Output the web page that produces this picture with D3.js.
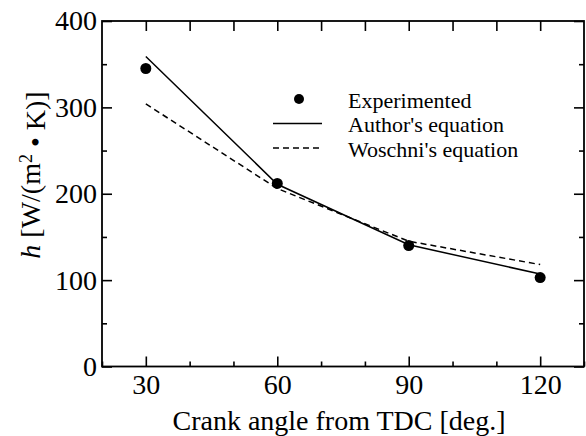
<!DOCTYPE html>
<html>
<head>
<meta charset="utf-8">
<script src="https://cdn.jsdelivr.net/npm/d3@7"></script>
<style>
  body { margin: 0; background: #fff; }
  svg { display: block; }
</style>
</head>
<body>
<svg width="586" height="436" font-family="Liberation Serif"></svg>
<script>
// crank angles (deg.)
const angles = [30, 60, 90, 120];
// heat transfer coefficient h [W/(m2 K)]
const experimented = [345, 212, 140, 103];
const authors = [359, 211, 141, 107];
const woschni = [304, 206, 145, 118];

const xTicks = [30, 60, 90, 120];
const yTicks = [0, 100, 200, 300, 400];

const legendNames = ["Experimented", "Author's equation", "Woschni's equation"];

var svg = d3.select("svg"),
  plotLeft = 102, plotRight = 584, plotTop = 21, plotBottom = 366.5;

var x = d3.scaleLinear().domain([20, 130]).range([plotLeft, plotRight]);
var y = d3.scaleLinear().domain([0, 400]).range([plotBottom, plotTop]);

// minor tick positions
var xMinor = d3.range(20, 131, 10).filter(d => xTicks.indexOf(d) < 0);
var yMinor = d3.range(50, 400, 100);

function styleAxis(g) {
  g.select(".domain").remove();
  g.attr("font-size", 28).attr("font-family", "Liberation Serif");
  g.selectAll(".tick line").attr("stroke", "#000").attr("stroke-width", 1.6);
  g.selectAll(".tick text").attr("fill", "#000");
}

// bottom axis, ticks inward
svg.append("g")
  .attr("transform", "translate(0," + plotBottom + ")")
  .call(d3.axisBottom(x).tickValues(xTicks).tickSize(-10).tickPadding(8).tickFormat(d3.format("d")))
  .call(styleAxis);
svg.append("g")
  .attr("transform", "translate(0," + plotBottom + ")")
  .call(d3.axisBottom(x).tickValues(xMinor).tickSize(-5).tickFormat(""))
  .call(styleAxis);

// top axis
svg.append("g")
  .attr("transform", "translate(0," + plotTop + ")")
  .call(d3.axisTop(x).tickValues(d3.range(30, 121, 10)).tickSize(-10).tickFormat(""))
  .call(styleAxis);

// left axis
svg.append("g")
  .attr("transform", "translate(" + plotLeft + ",0)")
  .call(d3.axisLeft(y).tickValues(yTicks).tickSize(-10).tickPadding(5).tickFormat(d3.format("d")))
  .call(styleAxis);
svg.append("g")
  .attr("transform", "translate(" + plotLeft + ",0)")
  .call(d3.axisLeft(y).tickValues(yMinor).tickSize(-5).tickFormat(""))
  .call(styleAxis);

// right axis
svg.append("g")
  .attr("transform", "translate(" + plotRight + ",0)")
  .call(d3.axisRight(y).tickValues(yTicks).tickSize(-10).tickFormat(""))
  .call(styleAxis);
svg.append("g")
  .attr("transform", "translate(" + plotRight + ",0)")
  .call(d3.axisRight(y).tickValues(yMinor).tickSize(-5).tickFormat(""))
  .call(styleAxis);

// frame
svg.append("rect")
  .attr("x", plotLeft)
  .attr("y", plotTop)
  .attr("width", plotRight - plotLeft)
  .attr("height", plotBottom - plotTop)
  .attr("fill", "none")
  .attr("stroke", "#000")
  .attr("stroke-width", 1.8);

var line = d3.line()
  .x(d => x(d[0]))
  .y(d => y(d[1]));

// Author's equation
svg.append("path")
  .datum(d3.zip(angles, authors))
  .attr("d", line)
  .attr("fill", "none")
  .attr("stroke", "#000")
  .attr("stroke-width", 1.5);

// Woschni's equation
svg.append("path")
  .datum(d3.zip(angles, woschni))
  .attr("d", line)
  .attr("fill", "none")
  .attr("stroke", "#000")
  .attr("stroke-width", 1.5)
  .attr("stroke-dasharray", "6,4");

// experimented points
svg.selectAll(".dot")
  .data(d3.zip(angles, experimented))
  .enter()
  .append("circle")
  .attr("class", "dot")
  .attr("cx", d => x(d[0]))
  .attr("cy", d => y(d[1]))
  .attr("r", 5.5)
  .attr("fill", "#000");

// legend
var lg = svg.append("g").attr("transform", "translate(273,99)");
lg.append("circle").attr("cx", 26).attr("cy", 0).attr("r", 5).attr("fill", "#000");
lg.append("line").attr("x1", 0).attr("x2", 49).attr("y1", 24.5).attr("y2", 24.5)
  .attr("stroke", "#000").attr("stroke-width", 1.5);
lg.append("line").attr("x1", 0).attr("x2", 49).attr("y1", 49).attr("y2", 49)
  .attr("stroke", "#000").attr("stroke-width", 1.5).attr("stroke-dasharray", "6,4");
lg.selectAll(".lt")
  .data(legendNames)
  .enter()
  .append("text")
  .attr("class", "lt")
  .attr("x", 75)
  .attr("y", (d, i) => 8.5 + i * 24.5)
  .attr("font-size", 22)
  .text(d => d);

// x axis title
svg.append("text")
  .attr("x", (plotLeft + plotRight) / 2 - 4)
  .attr("y", 430)
  .attr("text-anchor", "middle")
  .attr("font-size", 28)
  .text("Crank angle from TDC [deg.]");

// y axis title
var yt = svg.append("text")
  .attr("transform", "translate(40,175) rotate(-90)")
  .attr("text-anchor", "middle")
  .attr("font-size", 28);
yt.append("tspan").attr("font-style", "italic").text("h");
yt.append("tspan").text("  [W/(m");
yt.append("tspan").attr("dy", "-0.45em").attr("font-size", 18).text("2");
yt.append("tspan").attr("dy", "0.45em").text(" \u2022 K)]");
</script>
</body>
</html>
